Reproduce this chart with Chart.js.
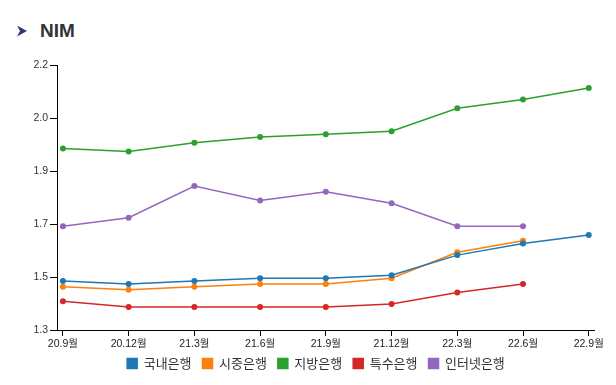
<!DOCTYPE html>
<html>
<head>
<meta charset="utf-8">
<script src="https://cdn.jsdelivr.net/npm/chart.js@4.4.1/dist/chart.umd.min.js"></script>
<style>
  html, body { margin: 0; padding: 0; background: #fff; }
  #wrap { position: relative; width: 616px; height: 385px; }
  #title {
    position: absolute; left: 17px; top: 20px;
    font: bold 19px "Liberation Sans", "Noto Sans", sans-serif;
    color: #333; display: flex; align-items: center;
  }
  #title .arrow {
    width: 10px; height: 11px; background: #2f3b6e; margin-right: 13px;
    clip-path: polygon(0 0, 100% 50%, 0 100%, 30% 50%);
  }
  canvas { position: absolute; left: 0; top: 0; }
</style>
</head>
<body>
<div id="wrap">
  <div id="title"><span class="arrow"></span>NIM</div>
  <canvas id="grafico" width="616" height="385"></canvas>
</div>
<script>
// === dados ===
const periodos = ["20.9월", "20.12월", "21.3월", "21.6월", "21.9월", "21.12월", "22.3월", "22.6월", "22.9월"];

const domestico = [1.47, 1.46, 1.47, 1.48, 1.48, 1.49, 1.56, 1.60, 1.63];
const comercial = [1.45, 1.44, 1.45, 1.46, 1.46, 1.48, 1.57, 1.61, null];
const regional  = [1.93, 1.92, 1.95, 1.97, 1.98, 1.99, 2.07, 2.10, 2.14];
const especial  = [1.40, 1.38, 1.38, 1.38, 1.38, 1.39, 1.43, 1.46, null];
const internet  = [1.66, 1.69, 1.80, 1.75, 1.78, 1.74, 1.66, 1.66, null];

const yTicks      = [1.3, 1.484, 1.668, 1.852, 2.036, 2.22];
const yTickLabels = ["1.3", "1.5", "1.7", "1.9", "2.0", "2.2"];

const series = [
  { nome: "국내은행",   dados: domestico, cor: "#1f77b4" },
  { nome: "시중은행",   dados: comercial, cor: "#ff7f0e" },
  { nome: "지방은행",   dados: regional,  cor: "#2ca02c" },
  { nome: "특수은행",   dados: especial,  cor: "#d62728" },
  { nome: "인터넷은행", dados: internet,  cor: "#9467bd" }
];

const fonte = '"Liberation Sans", "Noto Sans CJK KR", sans-serif';

// legenda: um pouco mais a direita e mais perto do eixo, como no original
const deslocaLegenda = {
  id: "deslocaLegenda",
  afterLayout(chart) {
    const lg = chart.legend;
    lg.left += 19;
    lg.right += 19;
    lg.top -= 5;
    lg.bottom -= 5;
  }
};

const ctx = document.getElementById("grafico").getContext("2d");

new Chart(ctx, {
  type: "line",
  plugins: [deslocaLegenda],
  data: {
    datasets: series.map(s => ({
      label: s.nome,
      data: s.dados.map((v, i) => ({ x: i, y: v })),
      borderColor: s.cor,
      backgroundColor: s.cor,
      borderWidth: 1.5,
      pointRadius: 3,
      pointHoverRadius: 3,
      pointBorderWidth: 0,
      tension: 0,
      spanGaps: false
    }))
  },
  options: {
    responsive: false,
    animation: false,
    layout: { padding: { top: 65, right: 22, bottom: 0, left: 0 } },
    plugins: {
      tooltip: { enabled: false },
      legend: {
        position: "bottom",
        labels: {
          boxWidth: 10,
          boxHeight: 10,
          padding: 11,
          color: "#333",
          font: { family: '"Noto Sans CJK KR", sans-serif', size: 13 }
        }
      }
    },
    scales: {
      x: {
        type: "linear",
        min: -0.09,
        max: 8.08,
        afterBuildTicks: scale => {
          scale.ticks = periodos.map((_, i) => ({ value: i }));
        },
        afterFit: scale => { scale.height = 21; },
        ticks: {
          autoSkip: false,
          maxRotation: 0,
          padding: 2,
          color: "#222",
          font: { family: fonte, size: 10.5 },
          callback: v => periodos[v]
        },
        grid: { drawOnChartArea: false, drawTicks: true, tickLength: 6, color: "#000" },
        border: { display: true, color: "#000", width: 1 }
      },
      y: {
        min: 1.3,
        max: 2.22,
        afterBuildTicks: scale => {
          scale.ticks = yTicks.map(v => ({ value: v }));
        },
        afterFit: scale => { scale.width = 57; },
        ticks: {
          padding: 2,
          color: "#333",
          font: { family: fonte, size: 10.5 },
          callback: (v, i) => yTickLabels[i]
        },
        grid: { drawOnChartArea: false, drawTicks: true, tickLength: 7, color: "#000" },
        border: { display: true, color: "#000", width: 1 }
      }
    }
  }
});
</script>
</body>
</html>
